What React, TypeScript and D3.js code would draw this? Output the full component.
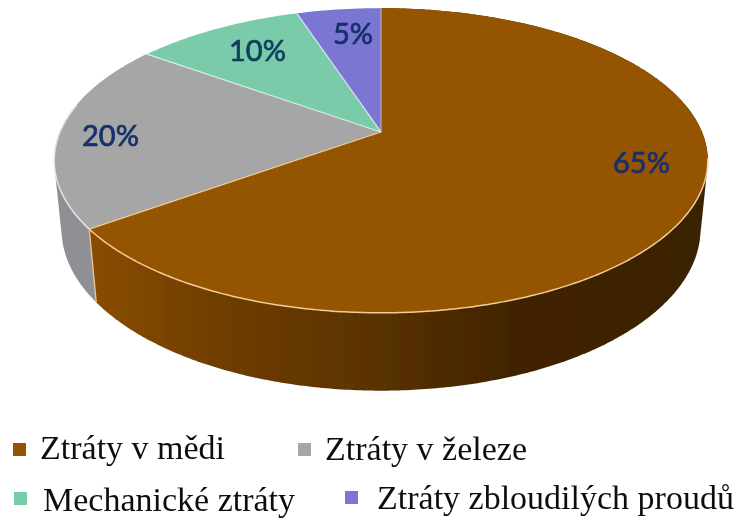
import React from "react";
import * as d3 from "d3";

const categories = ["Ztráty v mědi", "Ztráty v železe", "Mechanické ztráty", "Ztráty zbloudilých proudů"];
const values = [65, 20, 10, 5];
const labels = ["65%", "20%", "10%", "5%"];
const topColors = ["#955400", "#a6a6a6", "#7acba9", "#7a76d2"];
const edgeColors = ["#b9a6c4", "#f3cb9a", "#d5f0e4", "#cfe0f2"];

const CX = 381, CY = 132, A = 321, B = 147, K = 0.187, DROP = 69, SHRINK = 0.022;
const RIM_START = (100 * Math.PI) / 180;
const RIM_END = (281 * Math.PI) / 180;

function project(theta: number, depth: number): [number, number] {
  const x = Math.sin(theta);
  const y = Math.cos(theta);
  const w = 1 + K * y + SHRINK * depth;
  return [CX + (A * x) / w, CY + (-B * y + DROP * depth) / w];
}
const line = d3.line<[number, number]>();
const samples = (a0: number, a1: number) => {
  const n = Math.max(2, Math.ceil((a1 - a0) / 0.01));
  return d3.range(n + 1).map((i) => a0 + ((a1 - a0) * i) / n);
};

const pieGen = d3.pie<number>().sort(null).startAngle(0).endAngle(2 * Math.PI);
const arcs = pieGen(values);

const labelPos: [number, number][] = [
  [641.5, 173],
  [110.5, 146],
  [257.5, 61],
  [353, 44],
];
const legendPos = [
  { sx: 13, sy: 443, tx: 40, ty: 459 },
  { sx: 298, sy: 443, tx: 325, ty: 460 },
  { sx: 14, sy: 492, tx: 43, ty: 511 },
  { sx: 345, sy: 491, tx: 377, ty: 509 },
];

export default function App() {
  const topPath = (a0: number, a1: number) =>
    (line([[CX, CY], ...samples(a0, a1).map((t) => project(t, 0))]) ?? "") + "Z";
  const sidePath = (a0: number, a1: number) => {
    const s = samples(a0, a1);
    const hull = d3.polygonHull([...s.map((t) => project(t, 0)), ...s.map((t) => project(t, 1))]) ?? [];
    return (line(hull) ?? "") + "Z";
  };
  const front = arcs[0];
  const grey = arcs[1];
  return (
    <svg width={744} height={522} style={{ position: "absolute", left: 0, top: 0, background: "#fff" }}>
      <defs>
        <linearGradient id="brownSide" gradientUnits="userSpaceOnUse" x1={90} x2={708} y1={0} y2={0}>
          <stop offset="0" stopColor="#8a4c00" />
          <stop offset="0.2" stopColor="#703e00" />
          <stop offset="0.46" stopColor="#5a3200" />
          <stop offset="0.68" stopColor="#412400" />
          <stop offset="1" stopColor="#3a2000" />
        </linearGradient>
        <filter id="soft" x="-5%" y="-5%" width="110%" height="110%">
          <feGaussianBlur stdDeviation="0.55" />
        </filter>
      </defs>
      <g filter="url(#soft)">
        <path d={sidePath(grey.startAngle, grey.endAngle)} fill="#8f9094" />
        <path d={sidePath(front.startAngle, front.endAngle)} fill="url(#brownSide)" />
        {arcs.map((a, i) => (
          <path key={i} d={topPath(a.startAngle, a.endAngle)} fill={topColors[i]} />
        ))}
        {arcs.map((a, i) => (
          <path key={i} d={line([[CX, CY], project(a.startAngle, 0)]) ?? ""} stroke={edgeColors[i]} strokeWidth={1.3} fill="none" />
        ))}
        <path d={line(samples(RIM_START, front.endAngle).map((t) => project(t, 0))) ?? ""} fill="none" stroke="#f3cb9a" strokeWidth={1.5} />
        <path d={line(samples(grey.startAngle, RIM_END).map((t) => project(t, 0))) ?? ""} fill="none" stroke="#e4e4e4" strokeWidth={1.5} />
        <path d={line([project(front.endAngle, 0), project(front.endAngle, 1)]) ?? ""} fill="none" stroke="#f3cb9a" strokeWidth={1.2} />
        {labels.map((l, i) => (
          <text key={l} x={labelPos[i][0]} y={labelPos[i][1]} textAnchor="middle" fontFamily="Lato" fontSize={29} fill={i === 2 ? "#0f3f5e" : "#17306a"} stroke={i === 2 ? "#0f3f5e" : "#17306a"} strokeWidth={0.7}>
            {l}
          </text>
        ))}
        {categories.map((c, i) => (
          <g key={c}>
            <rect x={legendPos[i].sx} y={legendPos[i].sy} width={13} height={13} fill={topColors[i]} />
            <text x={legendPos[i].tx} y={legendPos[i].ty} fontFamily="Liberation Serif" fontSize={34} fill="#111">
              {c}
            </text>
          </g>
        ))}
      </g>
    </svg>
  );
}
